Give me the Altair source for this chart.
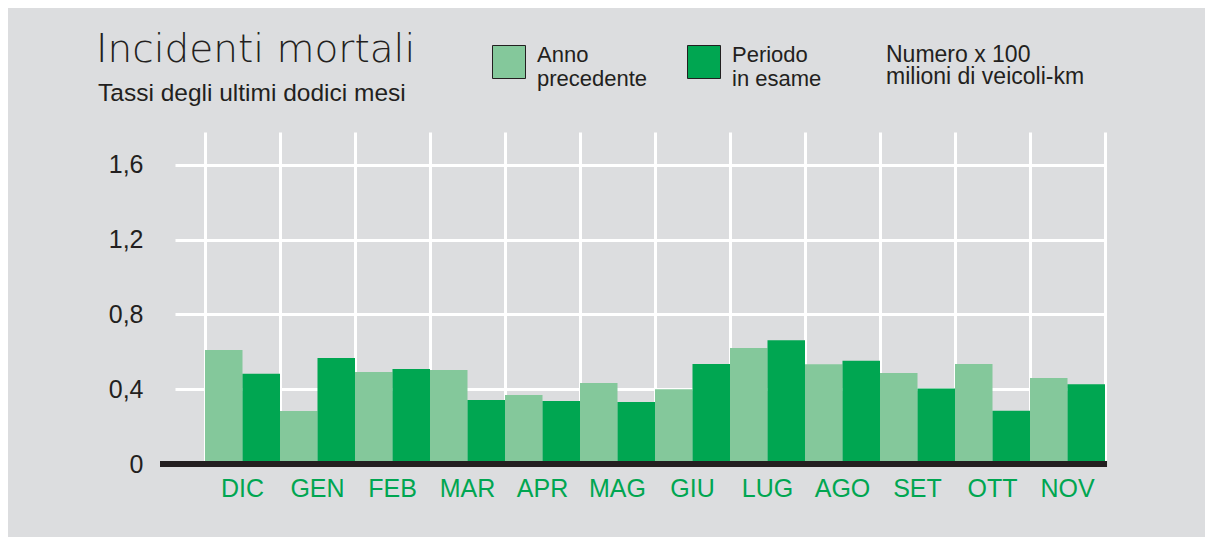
import altair as alt
import pandas as pd

months = ["DIC", "GEN", "FEB", "MAR", "APR", "MAG", "GIU", "LUG", "AGO", "SET", "OTT", "NOV"]
anno_precedente = [0.610, 0.283, 0.492, 0.503, 0.369, 0.433, 0.399, 0.620, 0.533, 0.487, 0.535, 0.460]
periodo_in_esame = [0.483, 0.567, 0.508, 0.342, 0.337, 0.332, 0.535, 0.661, 0.552, 0.403, 0.285, 0.426]
series = ["Anno precedente", "Periodo in esame"]
y_ticks = [0, 0.4, 0.8, 1.2, 1.6]
title_text = "Incidenti mortali"
subtitle_text = "Tassi degli ultimi dodici mesi"
note_text = "Numero x 100\nmilioni di veicoli-km"

TEXT = "#231f20"
GREEN_L = "#84c89b"
GREEN_D = "#00a651"
BG = "#dcdddf"
FONT = "Liberation Sans"

rows = []
for i, m in enumerate(months):
    for j, (s, vals) in enumerate(zip(series, [anno_precedente, periodo_in_esame])):
        rows.append({"month": m, "series": s, "value": vals[i],
                     "x0": i + 0.5 * j, "x1": i + 0.5 * j + 0.5})
df = pd.DataFrame(rows)
df_months = pd.DataFrame({"month": months, "center": [i + 0.5 for i in range(len(months))]})

xscale = alt.Scale(domain=[-0.4, 12], nice=False, zero=False)
yscale = alt.Scale(domain=[0, 1.775], nice=False)

x_axis = alt.Axis(values=list(range(13)), grid=True, gridColor="white", gridWidth=3,
                  gridOpacity=1, labels=False, ticks=False, domain=False, title=None)
y_axis = alt.Axis(values=y_ticks, grid=True, gridColor="white", gridWidth=3, gridOpacity=1,
                  ticks=False, domain=False, title=None, labelFont=FONT, labelFontSize=25,
                  labelColor=TEXT, labelPadding=32,
                  labelExpr="datum.value == 0 ? '0' : replace(format(datum.value, '.1f'), '.', ',')")

bars = alt.Chart(df).mark_rect().encode(
    x=alt.X("x0:Q", scale=xscale, axis=x_axis),
    x2="x1:Q",
    y=alt.Y("value:Q", scale=yscale, axis=y_axis),
    y2=alt.datum(0),
    color=alt.Color("series:N", scale=alt.Scale(domain=series, range=[GREEN_L, GREEN_D]),
                    legend=alt.Legend(orient="none", legendX=317, legendY=-87, direction="horizontal",
                                      title=None, symbolType="square", symbolSize=1089,
                                      symbolStrokeColor=TEXT, symbolStrokeWidth=1, symbolOpacity=1,
                                      labelFont=FONT, labelFontSize=22, labelColor=TEXT,
                                      labelBaseline="alphabetic",
                                      labelOffset=11, columnPadding=37, labelLimit=300, padding=0,
                                      labelExpr="indexof(datum.label, 'Anno') == 0 ? ['Anno', 'precedente'] : ['Periodo', 'in esame']")),
)

baseline = alt.Chart(pd.DataFrame({"k": [0]})).mark_rule(color=TEXT, strokeWidth=6).encode(
    x=alt.XDatum(-0.6, scale=xscale, axis=x_axis),
    x2=alt.datum(12.027),
    y=alt.YDatum(0, scale=yscale, axis=y_axis),
)

month_labels = alt.Chart(df_months).mark_text(
    font=FONT, fontSize=25, color=GREEN_D, baseline="alphabetic", align="center"
).encode(
    x=alt.X("center:Q", scale=xscale, axis=x_axis),
    y=alt.value(365),
    text="month:N",
)

title = alt.Chart(pd.DataFrame({"t": [title_text]})).mark_text(
    font="DejaVu Sans", fontWeight=200, fontSize=39, color=TEXT, align="left", baseline="alphabetic"
).encode(x=alt.value(-79), y=alt.value(-70), text="t:N")

subtitle = alt.Chart(pd.DataFrame({"t": [subtitle_text]})).mark_text(
    font=FONT, fontSize=24.5, color=TEXT, align="left", baseline="alphabetic"
).encode(x=alt.value(-77), y=alt.value(-31), text="t:N")

note = alt.Chart(pd.DataFrame({"t": [note_text]})).mark_text(
    font=FONT, fontSize=23, color=TEXT, align="left", baseline="alphabetic", lineBreak="\n", lineHeight=21.5
).encode(x=alt.value(711), y=alt.value(-70), text="t:N")

chart = alt.layer(bars, baseline, month_labels, title, subtitle, note).properties(
    width=930, height=332,
    autosize=alt.AutoSizeParams(type="none"),
    padding={"left": 167, "top": 124, "right": 100, "bottom": 73},
    background=BG,
).configure_view(stroke=None)

chart.save("out.html", embed_options={"renderer": "svg", "actions": False})
